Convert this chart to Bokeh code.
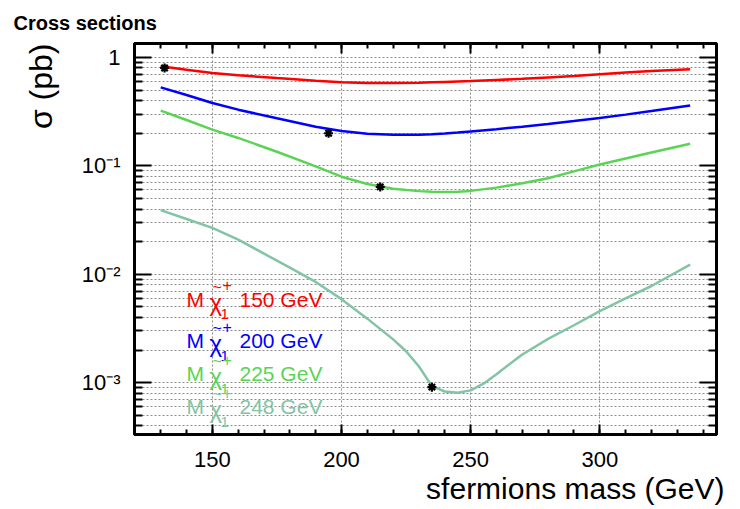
from bokeh.plotting import figure
from bokeh.models import (Range1d, FixedTicker, LinearAxis, LogAxis, Title,
                          CustomJSTickFormatter)
from bokeh.embed import file_html
from bokeh.resources import INLINE
from bokeh.core.properties import value

# ---------------- data ----------------
mass = [130, 140, 150, 160, 175, 190, 200, 210, 220, 230, 235, 240, 245, 250,
        260, 270, 280, 290, 300, 310, 320, 335]
xsec_150 = [0.83, 0.77, 0.72, 0.685, 0.645, 0.61, 0.59, 0.58, 0.58, 0.585, 0.59,
            0.595, 0.60, 0.605, 0.62, 0.635, 0.655, 0.675, 0.70, 0.725, 0.75, 0.78]
xsec_200 = [0.53, 0.45, 0.38, 0.33, 0.275, 0.23, 0.21, 0.198, 0.194, 0.194, 0.196,
            0.199, 0.203, 0.208, 0.218, 0.23, 0.243, 0.259, 0.277, 0.297, 0.32, 0.36]
xsec_225 = [0.323, 0.265, 0.216, 0.181, 0.135, 0.099, 0.0795, 0.068, 0.0615, 0.0585,
            0.0578, 0.0575, 0.0578, 0.0588, 0.063, 0.069, 0.077, 0.089, 0.103,
            0.117, 0.133, 0.16]
mass_248 = [130, 140, 150, 160, 170, 180, 190, 200, 210, 220, 225, 230, 235, 240,
            245, 250, 255, 260, 265, 270, 280, 290, 300, 310, 320, 335]
xsec_248 = [0.0391, 0.0324, 0.0268, 0.0209, 0.0155, 0.0115, 0.0085, 0.0059, 0.0039,
            0.00251, 0.00195, 0.00141, 0.00093, 0.00083, 0.00081, 0.00085, 0.00098,
            0.0012, 0.00148, 0.00182, 0.00254, 0.00339, 0.00457, 0.0060, 0.0078,
            0.0123]

series_x = [mass, mass, mass, mass_248]
series_y = [xsec_150, xsec_200, xsec_225, xsec_248]

star_mass = [131.5, 195, 215, 235]
star_xsec = [0.80, 0.20, 0.064, 0.00091]

chargino_labels = ["150 GeV", "200 GeV", "225 GeV", "248 GeV"]
colors = ["#ff0000", "#0000ff", "#59d454", "#82c4a4"]

x_ticks = [150, 200, 250, 300]
x_minor = list(range(120, 350, 10))
y_ticks = [1e-3, 1e-2, 1e-1, 1]
y_minor = [m * 10.0 ** e for e in range(-4, 1) for m in range(2, 10)]

# legend row heights (layout, in data units of the log axis)
legend_rows_y = [0.0059, 0.00244, 0.00121, 0.000603]

FONT = "Liberation Sans"

# ---------------- figure ----------------
x0, x1 = 119.85, 345.2
y0, y1 = 3.33e-4, 1.345
p = figure(width=740, height=509, x_range=Range1d(x0, x1), y_range=Range1d(y0, y1),
           y_axis_type="log", output_backend="svg", toolbar_location=None,
           min_border_left=133, min_border_right=24, min_border_top=42,
           min_border_bottom=75, background_fill_color="white",
           border_fill_color="white")
p.outline_line_color = "black"
p.outline_line_width = 3

xt = FixedTicker(ticks=x_ticks, minor_ticks=x_minor)
yt = FixedTicker(ticks=y_ticks, minor_ticks=y_minor)

yfmt = CustomJSTickFormatter(code="""
const e = Math.round(Math.log10(tick));
if (e === 0) { return "1"; }
const sup = {"-": "\u207b", "0": "\u2070", "1": "\u00b9", "2": "\u00b2", "3": "\u00b3", "4": "\u2074"};
return "10" + String(e).split("").map(c => sup[c]).join("");
""")


def style_axis(ax, major_in, minor_in, show_labels):
    ax.axis_line_color = "black"
    ax.axis_line_width = 3
    ax.major_tick_line_color = "black"
    ax.minor_tick_line_color = "black"
    ax.major_tick_line_width = 2
    ax.minor_tick_line_width = 2
    ax.major_tick_in = major_in
    ax.major_tick_out = 0
    ax.minor_tick_in = minor_in
    ax.minor_tick_out = 0
    ax.major_label_text_font = FONT
    ax.major_label_text_color = "black"
    if show_labels:
        ax.major_label_text_font_size = "22px"
    else:
        ax.major_label_text_font_size = "0px"
        ax.major_label_text_color = None
        ax.major_label_standoff = 0


p.xaxis.ticker = xt
p.yaxis.ticker = yt
p.yaxis.formatter = yfmt
style_axis(p.xaxis[0], 10, 5, True)
style_axis(p.yaxis[0], 17, 8, True)
p.xaxis.major_label_standoff = 17
p.yaxis.major_label_standoff = 14

top_ax = LinearAxis(ticker=xt)
style_axis(top_ax, 10, 5, False)
p.add_layout(top_ax, "above")
right_ax = LogAxis(ticker=yt)
style_axis(right_ax, 17, 8, False)
p.add_layout(right_ax, "right")

p.xgrid.ticker = xt
p.ygrid.ticker = yt
for g in (p.xgrid[0], p.ygrid[0]):
    g.grid_line_color = "#8c8c8c"
    g.grid_line_dash = "2 2"
    g.grid_line_width = 1
p.ygrid.minor_grid_line_color = "#8c8c8c"
p.ygrid.minor_grid_line_dash = "2 2"
p.ygrid.minor_grid_line_width = 1

# ---------------- curves ----------------
for xs, ys, c in zip(series_x, series_y, colors):
    p.line(xs, ys, line_color=c, line_width=2.5)

p.scatter(star_mass, star_xsec, marker="asterisk", size=9, line_width=2.2,
          line_color="black")

# ---------------- legend texts ----------------
for ly, lab, c in zip(legend_rows_y, chargino_labels, colors):
    xl = [x0]
    yl = [ly]
    common = dict(text_font=value(FONT), text_color=c)
    p.text(xl, yl, text=["M"], x_offset=52, text_baseline="middle",
           text_font_size="21px", **common)
    p.text(xl, yl, text=["\u03c7"], x_offset=75, y_offset=3,
           text_baseline="middle", text_font_size="24px", **common)
    p.text(xl, yl, text=["~"], x_offset=78, y_offset=-12,
           text_baseline="middle", text_font_size="16px", **common)
    p.text(xl, yl, text=["+"], x_offset=88, y_offset=-14, text_baseline="middle",
           text_font_size="16px", **common)
    p.text(xl, yl, text=["1"], x_offset=86, y_offset=15, text_baseline="middle",
           text_font_size="15px", **common)
    p.text(xl, yl, text=[lab], x_offset=105, text_baseline="middle",
           text_font_size="21px", **common)

# ---------------- titles ----------------
p.title.text = "Cross sections"
p.title.align = "left"
p.title.offset = -121
p.title.standoff = 19
p.title.text_font = FONT
p.title.text_font_size = "20px"
p.title.text_font_style = "bold"
p.title.text_color = "black"

p.add_layout(Title(text="\u03c3 (pb)", align="right", text_font=FONT,
                   text_font_size="32px", text_font_style="normal",
                   text_color="black", standoff=40), "left")
p.add_layout(Title(text="sfermions mass (GeV)", align="right", offset=-8,
                   text_font=FONT, text_font_size="30px",
                   text_font_style="normal", text_color="black", standoff=0),
             "below")

open("out.html", "w").write(file_html(p, INLINE))
